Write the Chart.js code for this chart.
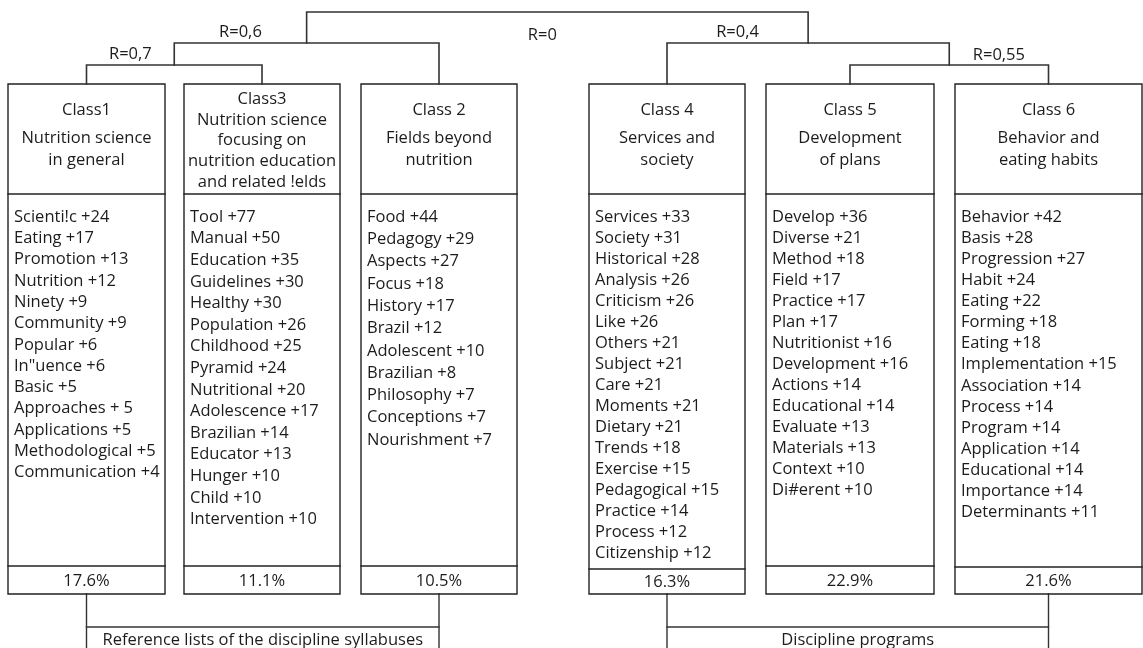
<!DOCTYPE html>
<html>
<head>
<meta charset="utf-8">
<script src="https://cdn.jsdelivr.net/npm/chart.js@4.4.1/dist/chart.umd.min.js"></script>
<style>
    html, body { margin: 0; padding: 0; background: #fff; }
    #wrap { width: 1143px; height: 648px; }
</style>
</head>
<body>
<div id="wrap"><canvas id="dendro" width="1143" height="648"></canvas></div>
<script>
// ---- data ----
const classNames = ["Class1", "Class3", "Class 2", "Class 4", "Class 5", "Class 6"];
const classTitles = [
    ["Nutrition science", "in general"],
    ["Nutrition science", "focusing on", "nutrition education", "and related !elds"],
    ["Fields beyond", "nutrition"],
    ["Services and", "society"],
    ["Development", "of plans"],
    ["Behavior and", "eating habits"]
];

const class1Terms = ["Scienti!c", "Eating", "Promotion", "Nutrition", "Ninety", "Community", "Popular", "In\"uence", "Basic", "Approaches", "Applications", "Methodological", "Communication"];
const class1Scores = [24, 17, 13, 12, 9, 9, 6, 6, 5, 5, 5, 5, 4];

const class3Terms = ["Tool", "Manual", "Education", "Guidelines", "Healthy", "Population", "Childhood", "Pyramid", "Nutritional", "Adolescence", "Brazilian", "Educator", "Hunger", "Child", "Intervention"];
const class3Scores = [77, 50, 35, 30, 30, 26, 25, 24, 20, 17, 14, 13, 10, 10, 10];

const class2Terms = ["Food", "Pedagogy", "Aspects", "Focus", "History", "Brazil", "Adolescent", "Brazilian", "Philosophy", "Conceptions", "Nourishment"];
const class2Scores = [44, 29, 27, 18, 17, 12, 10, 8, 7, 7, 7];

const class4Terms = ["Services", "Society", "Historical", "Analysis", "Criticism", "Like", "Others", "Subject", "Care", "Moments", "Dietary", "Trends", "Exercise", "Pedagogical", "Practice", "Process", "Citizenship"];
const class4Scores = [33, 31, 28, 26, 26, 26, 21, 21, 21, 21, 21, 18, 15, 15, 14, 12, 12];

const class5Terms = ["Develop", "Diverse", "Method", "Field", "Practice", "Plan", "Nutritionist", "Development", "Actions", "Educational", "Evaluate", "Materials", "Context", "Di#erent"];
const class5Scores = [36, 21, 18, 17, 17, 17, 16, 16, 14, 14, 13, 13, 10, 10];

const class6Terms = ["Behavior", "Basis", "Progression", "Habit", "Eating", "Forming", "Eating", "Implementation", "Association", "Process", "Program", "Application", "Educational", "Importance", "Determinants"];
const class6Scores = [42, 28, 27, 24, 22, 18, 18, 15, 14, 14, 14, 14, 14, 14, 11];

const classShares = [17.6, 11.1, 10.5, 16.3, 22.9, 21.6];

// tree: leaves are 0..5 (box order), merges get ids 6..10
const mergeLeft = [0, 6, 4, 3, 7];
const mergeRight = [1, 2, 5, 8, 9];
const mergeLabels = ["R=0,7", "R=0,6", "R=0,55", "R=0,4", "R=0"];

const groupLabels = ["Reference lists of the discipline syllabuses", "Discipline programs"];
const groupFirst = [0, 3];
const groupLast = [2, 5];

// ---- layout ----
const W = 1143, H = 648;
const boxLeft = [8, 184, 361, 589, 766, 955];
const boxRight = [165, 340, 517, 745, 934, 1142];
const boxTop = 84, headDiv = 194, boxBottom = 594;
const shareDiv = [566, 566, 566, 569, 566, 567];
const termStep = [21.3, 21.6, 22.3, 21, 21, 21.1];
const termTop = 217;
const levelY = [12, 43, 65];
const labelSide = ["left", "left", "right", "left", "below"];
const bracketY = 627;
const FONT = "400 16.5px 'Open Sans', 'Noto Sans', sans-serif";
const INK = "#1c1c1c";

const allTerms = [class1Terms, class3Terms, class2Terms, class4Terms, class5Terms, class6Terms];
const allScores = [class1Scores, class3Scores, class2Scores, class4Scores, class5Scores, class6Scores];

function termText(term, score) {
    if (term === "Approaches") return term + " + " + score;   // as printed
    return term + " +" + score;
}

function lineSet(points, color, width) {
    return {
        data: points,
        showLine: true,
        borderColor: color,
        borderWidth: width,
        pointRadius: 0,
        fill: false,
        tension: 0,
        clip: false,
        borderJoinStyle: "miter",
        borderCapStyle: "square"
    };
}

// node x / y
let nodeX = [], nodeY = [], depth = [];
for (let i = 0; i < classNames.length; i++) {
    nodeX[i] = (boxLeft[i] + boxRight[i]) / 2;
    nodeY[i] = boxTop;
}
for (let m = 0; m < mergeLeft.length; m++) {
    let id = classNames.length + m;
    nodeX[id] = (nodeX[mergeLeft[m]] + nodeX[mergeRight[m]]) / 2;
}
// depth from root down
let rootId = classNames.length + mergeLeft.length - 1;
depth[rootId] = 0;
for (let m = mergeLeft.length - 1; m >= 0; m--) {
    let id = classNames.length + m;
    depth[mergeLeft[m]] = depth[id] + 1;
    depth[mergeRight[m]] = depth[id] + 1;
    nodeY[id] = levelY[depth[id]];
}

let datasets = [];

// dendrogram
for (let m = 0; m < mergeLeft.length; m++) {
    let id = classNames.length + m;
    let a = mergeLeft[m], b = mergeRight[m];
    datasets.push(lineSet([
        { x: nodeX[a], y: nodeY[a] },
        { x: nodeX[a], y: nodeY[id] },
        { x: nodeX[b], y: nodeY[id] },
        { x: nodeX[b], y: nodeY[b] }
    ], "#333", 1.6));
}

// boxes
for (let i = 0; i < classNames.length; i++) {
    let l = boxLeft[i], r = boxRight[i];
    datasets.push(lineSet([
        { x: l, y: boxTop }, { x: r, y: boxTop }, { x: r, y: boxBottom },
        { x: l, y: boxBottom }, { x: l, y: boxTop }
    ], "#222", 1.4));
    datasets.push(lineSet([{ x: l, y: headDiv }, { x: r, y: headDiv }], "#222", 1.4));
    datasets.push(lineSet([{ x: l, y: shareDiv[i] }, { x: r, y: shareDiv[i] }], "#222", 1.4));
}

// bottom brackets
for (let g = 0; g < groupLabels.length; g++) {
    let x1 = nodeX[groupFirst[g]], x2 = nodeX[groupLast[g]];
    datasets.push(lineSet([
        { x: x1, y: boxBottom }, { x: x1, y: H + 2 }
    ], "#333", 1.4));
    datasets.push(lineSet([
        { x: x2, y: boxBottom }, { x: x2, y: H + 2 }
    ], "#333", 1.4));
    datasets.push(lineSet([
        { x: x1, y: bracketY }, { x: x2, y: bracketY }
    ], "#333", 1.4));
}

const textPlugin = {
    id: "boxText",
    afterDatasetsDraw(chart) {
        const ctx = chart.ctx;
        const sx = chart.scales.x, sy = chart.scales.y;
        const put = (t, x, y, align) => {
            ctx.textAlign = align || "center";
            ctx.fillText(t, sx.getPixelForValue(x), sy.getPixelForValue(y));
        };
        ctx.save();
        ctx.font = FONT;
        ctx.fillStyle = INK;
        ctx.textBaseline = "middle";

        for (let i = 0; i < classNames.length; i++) {
            let cx = (boxLeft[i] + boxRight[i]) / 2;
            let head = [classNames[i]].concat(classTitles[i]);
            let rows = head.length > 3
                ? head.map((_, k) => 99 + k * 20.8)
                : [110, 138, 160];
            head.forEach((t, k) => put(t, cx, rows[k]));

            allTerms[i].forEach((t, k) => {
                put(termText(t, allScores[i][k]), boxLeft[i] + 6, termTop + k * termStep[i], "left");
            });

            put(classShares[i].toFixed(1) + "%", cx, (shareDiv[i] + boxBottom) / 2 + 1);
        }

        for (let m = 0; m < mergeLeft.length; m++) {
            let id = classNames.length + m;
            let a = nodeX[mergeLeft[m]], b = nodeX[mergeRight[m]], c = nodeX[id];
            let x, y;
            if (labelSide[m] === "left") { x = (a + c) / 2; y = nodeY[id] - 11; }
            else if (labelSide[m] === "right") { x = (c + b) / 2; y = nodeY[id] - 10; }
            else { x = a + (b - a) * 0.47; y = nodeY[id] + 23; }
            put(mergeLabels[m], x, y);
        }

        for (let g = 0; g < groupLabels.length; g++) {
            let x1 = nodeX[groupFirst[g]], x2 = nodeX[groupLast[g]];
            put(groupLabels[g], (x1 + x2) / 2, 640);
        }
        ctx.restore();
    }
};

new Chart(document.getElementById("dendro"), {
    type: "scatter",
    data: { datasets: datasets },
    options: {
        responsive: false,
        animation: false,
        events: [],
        layout: { padding: 0 },
        plugins: {
            legend: { display: false },
            tooltip: { enabled: false }
        },
        scales: {
            x: { type: "linear", min: 0, max: W, display: false },
            y: { type: "linear", min: 0, max: H, reverse: true, display: false }
        }
    },
    plugins: [textPlugin]
});
</script>
</body>
</html>
